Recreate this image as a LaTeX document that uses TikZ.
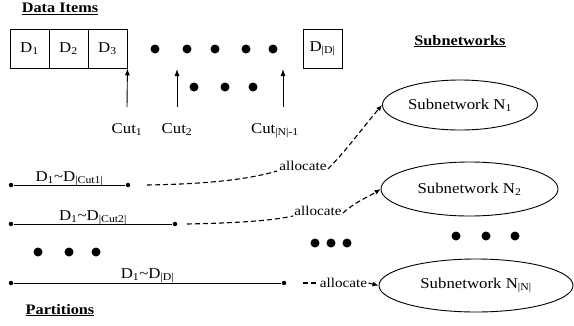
\documentclass[tikz,border=0pt]{standalone}
\usepackage{fontspec}
\setmainfont[FakeStretch=1.12]{Liberation Serif}
\usetikzlibrary{arrows.meta,shapes.geometric}
\begin{document}
\begin{tikzpicture}[x=1pt,y=-1pt,line width=0.9pt,
  every node/.style={font=\fontsize{15}{17}\selectfont},
  cell/.style={draw,minimum width=39pt,minimum height=39pt,inner sep=0pt},
  title/.style={font=\fontsize{14.5}{17}\selectfont\bfseries,anchor=base},
  bigdot/.style={circle,fill,inner sep=0pt,minimum size=9pt},
  enddot/.style={circle,fill,inner sep=0pt,minimum size=4.5pt},
  subnet/.style={ellipse,draw,inner sep=0pt},
  cutarrow/.style={-{Latex[length=7pt,width=5pt]}},
  dashline/.style={line width=1.1pt,dash pattern=on 5pt off 3pt},
  alloctip/.style={-{Latex[length=6pt,width=5pt]}},
  lbl/.style={font=\fontsize{13.5}{16}\selectfont,inner sep=1pt},
  seglabel/.style={anchor=base,inner sep=0pt}]
\useasboundingbox (0,0) rectangle (574,325);

% titles
\node[title] (tdata) at (60,12.5) {\underline{Data Items}};
\node[title] (tsub) at (460,45) {\underline{Subnetworks}};
\node[title] (tpart) at (60,314) {\underline{Partitions}};

% data items
\node[cell] (d1) at (29.5,48.5) {D\textsubscript{1}};
\node[cell] (d2) at (68.5,48.5) {D\textsubscript{2}};
\node[cell] (d3) at (107.5,48.5) {D\textsubscript{3}};
\node[cell] (dd) at (322.5,48.5) {D\textsubscript{|D|}};

\foreach \x [count=\i] in {155,187,215,246,273}
  \node[bigdot] (r1dot\i) at (\x,49) {};
\foreach \x [count=\i] in {194,225,253}
  \node[bigdot] (r2dot\i) at (\x,87) {};

% cuts
\coordinate (c1b) at (127,107);
\coordinate (c2b) at (177,107);
\coordinate (c2t) at (177,69);
\coordinate (c3b) at (283,107);
\coordinate (c3t) at (283,69);
\draw[cutarrow] (c1b) -- (d3.south east);
\draw[cutarrow] (c2b) -- (c2t);
\draw[cutarrow] (c3b) -- (c3t);
\node[anchor=base] (cut1) at (127,133) {Cut\textsubscript{1}};
\node[anchor=base] (cut2) at (177,133) {Cut\textsubscript{2}};
\node[anchor=base] (cut3) at (275,133) {Cut\textsubscript{|N|-1}};

% subnetworks
\node[subnet,minimum width=155pt,minimum height=50pt] (n1) at (460,105) {Subnetwork N\textsubscript{1}};
\node[subnet,minimum width=177pt,minimum height=54pt] (n2) at (469.5,189) {Subnetwork N\textsubscript{2}};
\node[subnet,minimum width=194pt,minimum height=53pt] (n3) at (476,285.5) {Subnetwork N\textsubscript{|N|}};

% partitions
\node[enddot] (p1a) at (11,185) {};
\node[enddot] (p1b) at (128,185) {};
\node[enddot] (p2a) at (11,224) {};
\node[enddot] (p2b) at (175,224) {};
\node[enddot] (p3a) at (11,283) {};
\node[enddot] (p3b) at (284,283) {};
\draw (p1a) -- (p1b) node[midway,seglabel,yshift=4pt] {D\textsubscript{1}\textasciitilde D\textsubscript{|Cut1|}};
\draw (p2a) -- (p2b) node[midway,seglabel,yshift=4pt] {D\textsubscript{1}\textasciitilde D\textsubscript{|Cut2|}};
\draw (p3a) -- (p3b) node[midway,seglabel,yshift=5pt] {D\textsubscript{1}\textasciitilde D\textsubscript{|D|}};

% ellipsis dots
\foreach \x [count=\i] in {38,69,96}
  \node[bigdot] (ldot\i) at (\x,252) {};
\foreach \x [count=\i] in {315,331,347}
  \node[bigdot] (mdot\i) at (\x,243) {};
\foreach \x [count=\i] in {456,486,515}
  \node[bigdot] (rdot\i) at (\x,236) {};

% allocations
\coordinate (s1) at (147,185);
\coordinate (s2) at (187,224);
\coordinate (s3) at (303,283);
\node[lbl] (a1) at (303,166) {allocate};
\node[lbl] (a2) at (318,211) {allocate};
\node[lbl] (a3) at (343.5,283) {allocate};
\draw[dashline] (s1) .. controls (210,184) and (250,179) .. ([xshift=-1pt,yshift=-5pt]a1.west);
\draw[dashline,alloctip] ([yshift=-3pt]a1.east) .. controls (345,152) and (365,125) .. (n1.west);
\draw[dashline] (s2) .. controls (235,223) and (270,221) .. ([xshift=0pt,yshift=-5pt]a2.west);
\draw[dashline,alloctip] ([yshift=-2pt]a2.east) .. controls (355,202) and (370,196) .. (n2.west);
\draw[dashline] (s3) -- (a3.west);
\draw[dashline,alloctip] (a3.east) -- (n3.west);
\end{tikzpicture}
\end{document}
